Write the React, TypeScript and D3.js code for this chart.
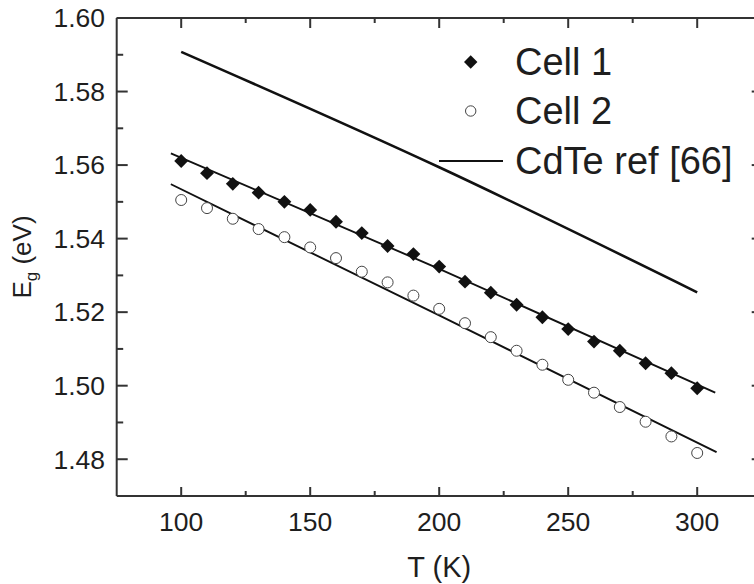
import React from "react";
import * as d3 from "d3";

const temps = [100, 110, 120, 130, 140, 150, 160, 170, 180, 190, 200, 210, 220, 230, 240, 250, 260, 270, 280, 290, 300];
const cell1 = [1.5611, 1.5578, 1.5549, 1.5525, 1.55, 1.5478, 1.5446, 1.5415, 1.538, 1.5358, 1.5324, 1.5283, 1.5253, 1.522, 1.5186, 1.5154, 1.512, 1.5095, 1.5061, 1.5034, 1.4993];
const cell2 = [1.5505, 1.5483, 1.5454, 1.5426, 1.5404, 1.5376, 1.5347, 1.531, 1.5281, 1.5245, 1.5209, 1.517, 1.5132, 1.5095, 1.5057, 1.5016, 1.4981, 1.4942, 1.4902, 1.4862, 1.4817];

const fit1T = [96, 200, 307];
const fit1E = [1.5632, 1.5318, 1.4981];
const fit2T = [96, 200, 307.5];
const fit2E = [1.5548, 1.5191, 1.4819];
const refT = [100, 200, 300];
const refE = [1.5908, 1.5594, 1.5254];

const xMajor = [100, 150, 200, 250, 300];
const xMinor = [125, 175, 225, 275];
const yMajor = [1.48, 1.5, 1.52, 1.54, 1.56, 1.58, 1.6];
const yMinor = [1.49, 1.51, 1.53, 1.55, 1.57, 1.59];
const legendLabels = ["Cell 1", "Cell 2", "CdTe ref [66]"];

const W = 754;
const H = 584;
const FONT = "'Liberation Sans', Arial, Helvetica, sans-serif";
const TXT = "#1e1e1e";
const AX = "#333";

export default function App() {
  const x = d3.scaleLinear().domain([75, 325]).range([116.7, 761.7]);
  const y = d3.scaleLinear().domain([1.47, 1.6]).range([496, 18]);
  const smooth = d3
    .line<[number, number]>()
    .x((d) => x(d[0]))
    .y((d) => y(d[1]))
    .curve(d3.curveNatural);

  const fit1 = fit1T.map((t, i) => [t, fit1E[i]] as [number, number]);
  const fit2 = fit2T.map((t, i) => [t, fit2E[i]] as [number, number]);
  const ref = refT.map((t, i) => [t, refE[i]] as [number, number]);

  const diamond = d3.symbol().type(d3.symbolSquare).size(96)();
  const [x0, x1] = x.range();
  const [yb, yt] = y.range();

  const lx = 470.7;
  const legY = [62, 111, 161];

  return (
    <svg
      width={W}
      height={H}
      style={{ position: "absolute", left: 0, top: 0, background: "#fff" }}
      fontFamily={FONT}
    >
      <rect x={0} y={0} width={W} height={H} fill="#fff" />
      <g stroke={AX} strokeWidth={2} fill="none">
        <line x1={x0} x2={x1} y1={yb} y2={yb} />
        <line x1={x0} x2={x1} y1={yt} y2={yt} />
        <line x1={x0} x2={x0} y1={yt} y2={yb} />
        <line x1={x1} x2={x1} y1={yt} y2={yb} />
        {xMajor.map((v) => (
          <g key={"xm" + v}>
            <line x1={x(v)} x2={x(v)} y1={yb} y2={yb - 9} />
            <line x1={x(v)} x2={x(v)} y1={yt} y2={yt + 10} />
          </g>
        ))}
        {xMinor.map((v) => (
          <g key={"xn" + v}>
            <line x1={x(v)} x2={x(v)} y1={yb} y2={yb - 5} />
            <line x1={x(v)} x2={x(v)} y1={yt} y2={yt + 5} />
          </g>
        ))}
        {yMajor.map((v) => (
          <g key={"ym" + v}>
            <line x1={x0} x2={x0 + 11} y1={y(v)} y2={y(v)} />
            <line x1={x1} x2={x1 - 10} y1={y(v)} y2={y(v)} />
          </g>
        ))}
        {yMinor.map((v) => (
          <g key={"yn" + v}>
            <line x1={x0} x2={x0 + 6.5} y1={y(v)} y2={y(v)} />
            <line x1={x1} x2={x1 - 5} y1={y(v)} y2={y(v)} />
          </g>
        ))}
      </g>

      {yMajor.map((v) => (
        <text key={"yl" + v} x={105} y={y(v)} dy="0.35em" textAnchor="end" fontSize={26.5} fill={TXT}>
          {v.toFixed(2)}
        </text>
      ))}
      {xMajor.map((v) => (
        <text key={"xl" + v} x={x(v)} y={531} textAnchor="middle" fontSize={26.5} fill={TXT}>
          {v}
        </text>
      ))}
      <text x={(x0 + 761.7) / 2} y={577} textAnchor="middle" fontSize={29} fill={TXT}>
        T (K)
      </text>
      <text
        transform={`translate(31, ${(yt + yb) / 2}) rotate(-90)`}
        textAnchor="middle"
        fontSize={26}
        fill={TXT}
      >
        E<tspan fontSize={17} dy={6}>g</tspan>
        <tspan dy={-6}> (eV)</tspan>
      </text>

      <path d={smooth(ref) || ""} fill="none" stroke="#111" strokeWidth={2.6} />
      <path d={smooth(fit1) || ""} fill="none" stroke="#111" strokeWidth={1.9} />
      <path d={smooth(fit2) || ""} fill="none" stroke="#111" strokeWidth={1.9} />

      {temps.map((t, i) => (
        <path
          key={"d" + t}
          d={diamond || ""}
          transform={`translate(${x(t)},${y(cell1[i])}) rotate(45)`}
          fill="#111"
        />
      ))}
      {temps.map((t, i) => (
        <circle key={"c" + t} cx={x(t)} cy={y(cell2[i])} r={5.5} fill="#fff" stroke="#444" strokeWidth={1} />
      ))}

      <path
        d={d3.symbol().type(d3.symbolSquare).size(90)() || ""}
        transform={`translate(${lx},${legY[0]}) rotate(45)`}
        fill="#111"
      />
      <circle cx={lx} cy={legY[1]} r={5.2} fill="#fff" stroke="#444" strokeWidth={1} />
      <line x1={439} x2={503} y1={legY[2]} y2={legY[2]} stroke="#111" strokeWidth={2.2} />
      {legendLabels.map((s, i) => (
        <text key={s} x={515} y={legY[i]} dy="0.35em" fontSize={38} fill={TXT}>
          {s}
        </text>
      ))}
    </svg>
  );
}
